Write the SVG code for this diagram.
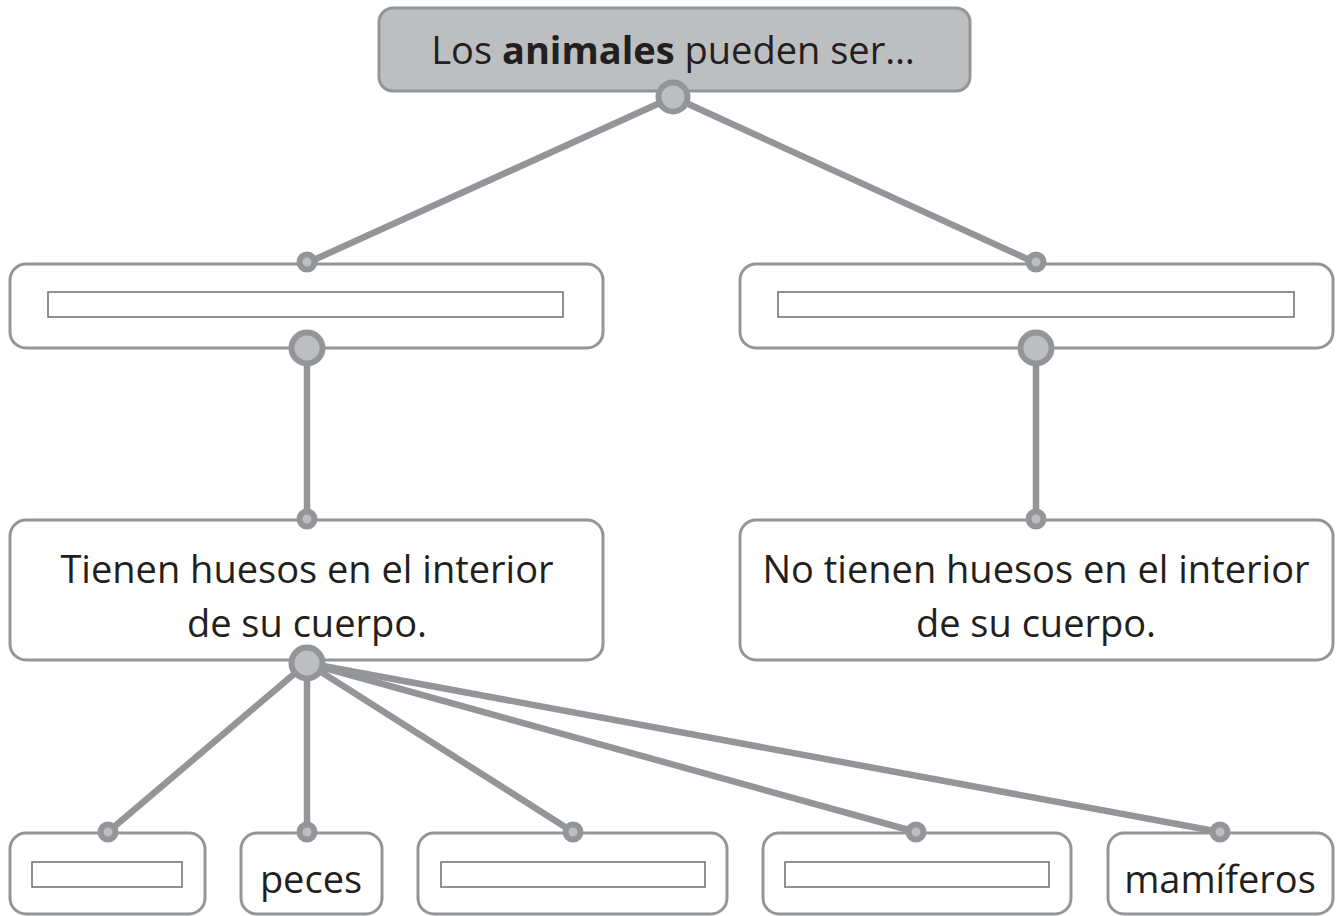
<svg xmlns="http://www.w3.org/2000/svg" width="1336" height="916" viewBox="0 0 1336 916">
<style>
.box{fill:#ffffff;stroke:#939598;stroke-width:3}
.top{fill:#bcbec0;stroke:#939598;stroke-width:3}
.blank{fill:#ffffff;stroke:#6d6e71;stroke-width:1.5}
.t{font-family:"Open Sans","Liberation Sans",sans-serif;font-size:38px;fill:#231f20;text-anchor:middle}
.ln{stroke:#939598;stroke-width:6.5;fill:none;stroke-linecap:round}
.dot{fill:#bcbec0;stroke:#939598;stroke-width:6}
.big{fill:#bcbec0;stroke:#939598;stroke-width:6}
</style>
<rect width="1336" height="916" fill="#ffffff"/>
<g id="root">
<rect class="top" x="379" y="8" width="591" height="83" rx="14"/>
<text class="t" x="673" y="64" font-size="39">Los <tspan font-weight="bold">animales</tspan> pueden ser…</text>
</g>
<g id="left2">
<rect class="box" x="10" y="264" width="593" height="84" rx="16"/>
<rect class="blank" x="48" y="292" width="515" height="25"/>
</g>
<g id="right2">
<rect class="box" x="740" y="264" width="593" height="84" rx="16"/>
<rect class="blank" x="778" y="292" width="516" height="25"/>
</g>
<g id="vertebrados">
<rect class="box" x="10" y="520" width="593" height="140" rx="16"/>
<text class="t" x="307" y="583">Tienen huesos en el interior</text>
<text class="t" x="307" y="637">de su cuerpo.</text>
</g>
<g id="invertebrados">
<rect class="box" x="740" y="520" width="593" height="140" rx="16"/>
<text class="t" x="1036" y="583">No tienen huesos en el interior</text>
<text class="t" x="1036" y="637">de su cuerpo.</text>
</g>
<g id="leaf1">
<rect class="box" x="10" y="833" width="195" height="81" rx="16"/>
<rect class="blank" x="32" y="862" width="150" height="25"/>
</g>
<g id="leaf2">
<rect class="box" x="241" y="833" width="141" height="81" rx="16"/>
<text class="t" x="311" y="893">peces</text>
</g>
<g id="leaf3">
<rect class="box" x="418" y="833" width="309" height="81" rx="16"/>
<rect class="blank" x="441" y="862" width="264" height="25"/>
</g>
<g id="leaf4">
<rect class="box" x="763" y="833" width="308" height="81" rx="16"/>
<rect class="blank" x="785" y="862" width="264" height="25"/>
</g>
<g id="leaf5">
<rect class="box" x="1108" y="833" width="225" height="81" rx="16"/>
<text class="t" x="1220" y="893">mamíferos</text>
</g>
<g id="connectors">
<line class="ln" x1="673" y1="97" x2="307" y2="263"/>
<line class="ln" x1="673" y1="97" x2="1036" y2="263"/>
<line class="ln" x1="307" y1="348" x2="307" y2="519"/>
<line class="ln" x1="1036" y1="348" x2="1036" y2="519"/>
<line class="ln" x1="307" y1="663" x2="108" y2="832"/>
<line class="ln" x1="307" y1="663" x2="307" y2="832"/>
<line class="ln" x1="307" y1="663" x2="573" y2="832"/>
<line class="ln" x1="307" y1="663" x2="916" y2="832"/>
<line class="ln" x1="307" y1="663" x2="1220" y2="832"/>
<circle class="big" cx="673" cy="97" r="14.5"/>
<circle class="dot" cx="307" cy="262" r="7.5"/>
<circle class="dot" cx="1036" cy="262" r="7.5"/>
<circle class="big" cx="307" cy="348" r="15.5"/>
<circle class="big" cx="1036" cy="348" r="15.5"/>
<circle class="dot" cx="307" cy="519" r="7.5"/>
<circle class="dot" cx="1036" cy="519" r="7.5"/>
<circle class="big" cx="307" cy="663" r="15.5"/>
<circle class="dot" cx="108" cy="832" r="7.5"/>
<circle class="dot" cx="307" cy="832" r="7.5"/>
<circle class="dot" cx="573" cy="832" r="7.5"/>
<circle class="dot" cx="916" cy="832" r="7.5"/>
<circle class="dot" cx="1220" cy="832" r="7.5"/>
</g>
</svg>
